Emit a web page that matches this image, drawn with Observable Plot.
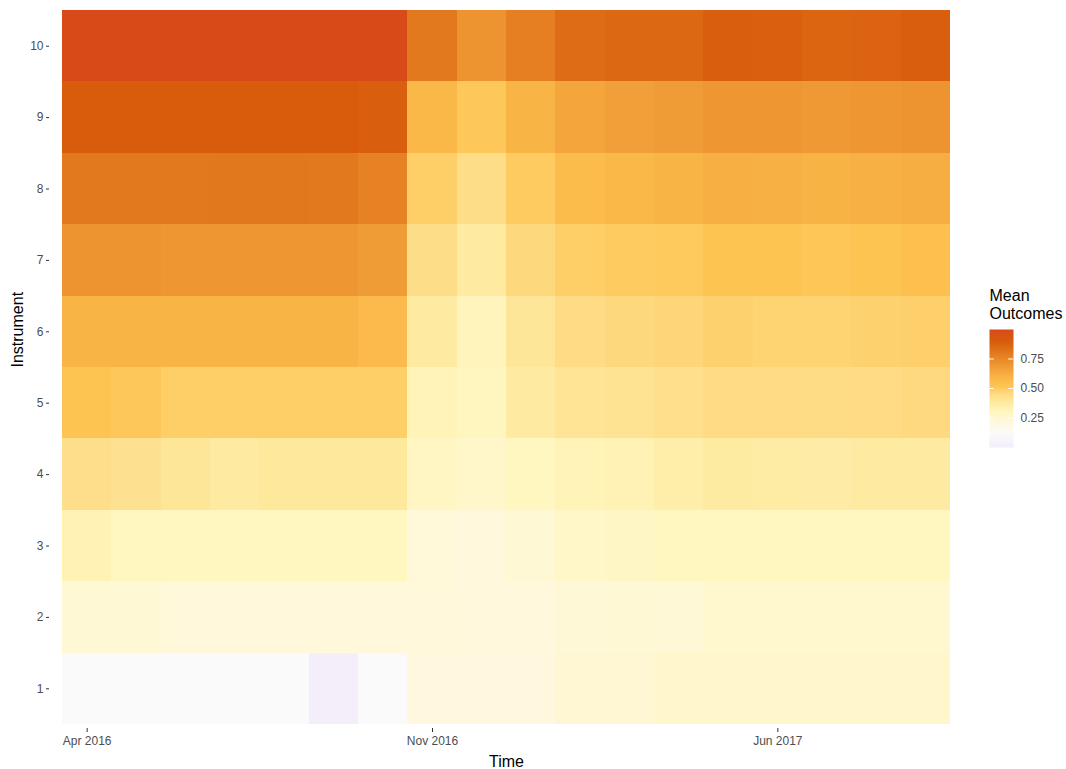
<!DOCTYPE html>
<html>
<head>
<meta charset="utf-8">
<script src="https://cdn.jsdelivr.net/npm/d3@7"></script>
<script src="https://cdn.jsdelivr.net/npm/@observablehq/plot@0.6"></script>
<style>
  html, body { margin: 0; padding: 0; background: #ffffff; }
  #wrap { position: relative; width: 1066px; height: 769px; }
  #legend { position: absolute; left: 989px; top: 285px; }
</style>
</head>
<body>
<div id="wrap">
  <div id="main"></div>
  <div id="legend"></div>
</div>
<script>
// ---- data ----
const months = ["2016-04","2016-05","2016-06","2016-07","2016-08","2016-09","2016-10","2016-11","2016-12",
                "2017-01","2017-02","2017-03","2017-04","2017-05","2017-06","2017-07","2017-08","2017-09"];
const instruments = ["1","2","3","4","5","6","7","8","9","10"];
const xTickKeys = ["2016-04","2016-11","2017-06"];
const xTickLabels = ["Apr 2016","Nov 2016","Jun 2017"];
const legendTicks = [0.25, 0.5, 0.75];

const inst1  = [0.12,0.12,0.12,0.12,0.12,0.00,0.12, 0.21,0.21,0.21,0.245,0.245,0.27,0.27,0.27,0.27,0.27,0.27];
const inst2  = [0.24,0.24,0.225,0.225,0.225,0.225,0.225, 0.225,0.22,0.22,0.235,0.24,0.235,0.26,0.26,0.26,0.26,0.26];
const inst3  = [0.33,0.30,0.30,0.30,0.30,0.30,0.30, 0.23,0.22,0.24,0.28,0.285,0.30,0.30,0.30,0.30,0.30,0.30];
const inst4  = [0.435,0.42,0.40,0.38,0.39,0.39,0.39, 0.29,0.275,0.30,0.32,0.33,0.355,0.375,0.37,0.365,0.38,0.38];
const inst5  = [0.52,0.51,0.49,0.49,0.49,0.49,0.49, 0.32,0.305,0.38,0.41,0.415,0.43,0.45,0.45,0.445,0.45,0.455];
const inst6  = [0.60,0.60,0.60,0.60,0.60,0.60,0.57, 0.38,0.31,0.40,0.45,0.46,0.465,0.48,0.475,0.475,0.48,0.485];
const inst7  = [0.71,0.71,0.70,0.70,0.70,0.70,0.68, 0.44,0.38,0.46,0.49,0.50,0.505,0.52,0.52,0.515,0.52,0.54];
const inst8  = [0.80,0.80,0.80,0.805,0.805,0.80,0.77, 0.49,0.44,0.50,0.56,0.58,0.60,0.62,0.615,0.605,0.615,0.625];
const inst9  = [0.90,0.90,0.90,0.90,0.90,0.90,0.89, 0.58,0.51,0.60,0.65,0.67,0.68,0.70,0.70,0.69,0.70,0.71];
const inst10 = [1.00,1.00,1.00,1.00,1.00,1.00,1.00, 0.80,0.71,0.78,0.85,0.86,0.86,0.89,0.885,0.87,0.875,0.89];
const rows = [inst1, inst2, inst3, inst4, inst5, inst6, inst7, inst8, inst9, inst10];

// colour ramp (value stops -> colours)
const colorDomain = [0.00, 0.12, 0.22, 0.30, 0.38, 0.45, 0.52, 0.60, 0.70, 0.80, 0.90, 1.00];
const colorRange  = ["#f3eefa","#fbfafa","#fff8dc","#fff6c0","#feeaa0","#fedb84","#fec452","#f9b446","#ee9632","#e3791e","#d85c0c","#d84a18"];

const table = [];
rows.forEach((r, i) => r.forEach((v, j) => table.push({instrument: instruments[i], month: months[j], value: v})));

const colorOpts = {type: "linear", domain: colorDomain, range: colorRange, interpolate: "rgb"};
const font = "'Liberation Sans', Arial, Helvetica, sans-serif";

const main = Plot.plot({
  width: 1066,
  height: 769,
  marginLeft: 62,
  marginRight: 116,
  marginTop: 10,
  marginBottom: 45,
  style: {fontFamily: font, background: "#ffffff"},
  x: {type: "band", domain: months, padding: 0, round: false},
  y: {type: "band", domain: instruments.slice().reverse(), padding: 0, round: false},
  color: colorOpts,
  marks: [
    Plot.cell(table, {x: "month", y: "instrument", fill: "value", inset: 0, shapeRendering: "crispEdges"}),
    Plot.axisX({ticks: xTickKeys, tickFormat: d => xTickLabels[xTickKeys.indexOf(d)], tickSize: 4, dy: 4,
                tickPadding: 4, label: null, stroke: "#333333", fill: "#4d4d4d", fontSize: 12}),
    Plot.axisY({tickSize: 3, dx: -13, tickPadding: 3, label: null, stroke: "#333333", fill: "#4d4d4d", fontSize: 12}),
    Plot.text(["Time"], {frameAnchor: "bottom", dy: 37, lineAnchor: "middle", fontSize: 16, fill: "#000000"}),
    Plot.text(["Instrument"], {frameAnchor: "left", dx: -45, rotate: -90, lineAnchor: "middle", fontSize: 16, fill: "#000000"})
  ]
});
document.getElementById("main").appendChild(main);

const legend = Plot.plot({
  width: 77,
  height: 162,
  marginLeft: 0,
  marginRight: 53,
  marginTop: 44,
  marginBottom: 0,
  style: {fontFamily: font, background: "transparent", overflow: "visible"},
  x: {domain: [0, 1], axis: null},
  y: {domain: [0, 1]},
  color: colorOpts,
  marks: [
    Plot.raster({fill: (x, y) => y, x1: 0, x2: 1, y1: 0, y2: 1, pixelSize: 1}),
    Plot.ruleY(legendTicks, {x1: 0, x2: 0.2, stroke: "#ffffff", strokeWidth: 1}),
    Plot.ruleY(legendTicks, {x1: 0.8, x2: 1, stroke: "#ffffff", strokeWidth: 1}),
    Plot.axisY({anchor: "right", ticks: legendTicks, tickFormat: d3.format(".2f"), tickSize: 0, tickPadding: 7,
                label: null, fill: "#4d4d4d", fontSize: 12}),
    Plot.text(["Mean\nOutcomes"], {frameAnchor: "top-left", dy: -41, lineAnchor: "top", textAnchor: "start",
                lineHeight: 1.1, fontSize: 16, fill: "#000000"})
  ]
});
document.getElementById("legend").appendChild(legend);
</script>
</body>
</html>
